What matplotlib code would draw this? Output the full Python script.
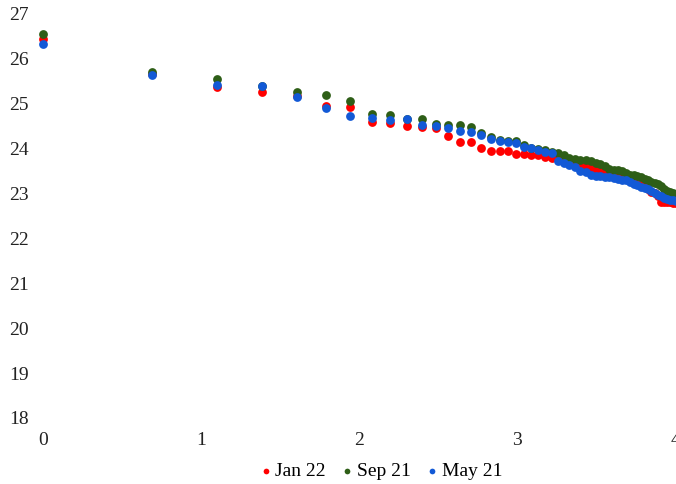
import matplotlib
matplotlib.use("Agg")
import matplotlib.pyplot as plt

# x positions (log of rank)
x_vals = [0.000, 0.693, 1.099, 1.386, 1.609, 1.792, 1.946, 2.079, 2.197, 2.303,
          2.398, 2.485, 2.565, 2.639, 2.708, 2.773, 2.833, 2.890, 2.944, 2.996,
          3.045, 3.091, 3.135, 3.178, 3.219, 3.258, 3.296, 3.332, 3.367, 3.401,
          3.434, 3.466, 3.497, 3.526, 3.555, 3.584, 3.611, 3.638, 3.664, 3.689,
          3.714, 3.738, 3.761, 3.784, 3.807, 3.829, 3.850, 3.871, 3.892, 3.912,
          3.932, 3.951, 3.970, 3.989, 4.007]

jan22 = [26.45, 25.65, 25.37, 25.26, 25.17, 24.95, 24.92, 24.59, 24.58, 24.51,
         24.49, 24.46, 24.29, 24.14, 24.14, 24.01, 23.95, 23.95, 23.95, 23.88,
         23.87, 23.86, 23.85, 23.82, 23.79, 23.78, 23.76, 23.72, 23.68, 23.65,
         23.60, 23.56, 23.52, 23.49, 23.47, 23.44, 23.42, 23.38, 23.35, 23.32,
         23.29, 23.26, 23.22, 23.18, 23.15, 23.10, 23.04, 23.00, 22.95, 22.82,
         22.81, 22.80, 22.80, 22.79, 22.78]

sep21 = [26.55, 25.70, 25.55, 25.40, 25.27, 25.20, 25.06, 24.77, 24.74, 24.65,
         24.65, 24.54, 24.52, 24.52, 24.49, 24.35, 24.25, 24.18, 24.17, 24.16,
         24.08, 24.02, 24.00, 23.96, 23.93, 23.90, 23.86, 23.80, 23.76, 23.75,
         23.74, 23.72, 23.68, 23.66, 23.62, 23.55, 23.53, 23.52, 23.50, 23.46,
         23.42, 23.41, 23.39, 23.36, 23.33, 23.30, 23.26, 23.23, 23.20, 23.16,
         23.10, 23.06, 23.03, 23.00, 22.98]

may21 = [26.33, 25.63, 25.42, 25.40, 25.15, 24.90, 24.73, 24.68, 24.64, 24.65,
         24.53, 24.51, 24.45, 24.39, 24.37, 24.31, 24.22, 24.16, 24.14, 24.12,
         24.03, 24.01, 23.96, 23.93, 23.90, 23.72, 23.68, 23.63, 23.58, 23.50,
         23.47, 23.42, 23.39, 23.38, 23.37, 23.36, 23.35, 23.33, 23.31, 23.29,
         23.26, 23.22, 23.19, 23.15, 23.12, 23.09, 23.05, 23.01, 22.97, 22.94,
         22.90, 22.88, 22.86, 22.85, 22.83]

series_names = ["Jan 22", "Sep 21", "May 21"]
colors = ["#FF0000", "#2E5E17", "#1259D6"]

x_ticks = [0, 1, 2, 3, 4]
y_ticks = [18, 19, 20, 21, 22, 23, 24, 25, 26, 27]

plt.rcParams['font.family'] = ['Liberation Serif', 'DejaVu Serif']

fig = plt.figure(figsize=(6.76, 4.84), dpi=100)
ax = fig.add_axes([0.0636, 0.1364, 0.935, 0.835])

for ys, name, c in zip([jan22, sep21, may21], series_names, colors):
    ax.scatter(x_vals, ys, s=40, color=c, label=name, linewidths=0, zorder=3,
               clip_on=False)

ax.set_xlim(0, 4)
ax.set_ylim(18, 27)
ax.set_xticks(x_ticks)
ax.set_yticks(y_ticks)
ax.tick_params(length=0, labelsize=14, colors="#222222")
ax.tick_params(axis='x', pad=10)
ax.tick_params(axis='y', pad=10)
for s in ax.spines.values():
    s.set_visible(False)

leg = fig.legend(loc="center", bbox_to_anchor=(0.561, 0.027), ncol=3, frameon=False,
                 fontsize=14, markerscale=0.65, handletextpad=0.0, columnspacing=0.6,
                 handlelength=1.0)

fig.savefig("out.png", dpi=100)
